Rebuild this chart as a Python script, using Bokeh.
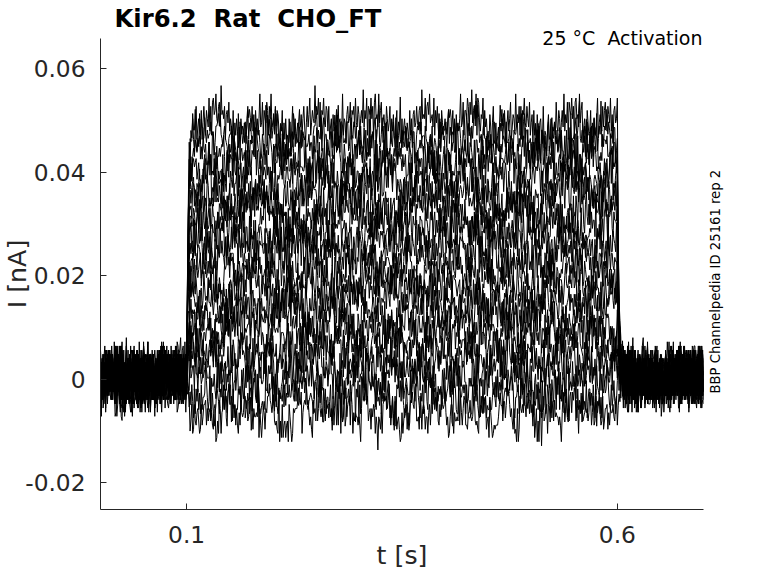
from bokeh.plotting import figure
from bokeh.models import Range1d, FixedTicker, LinearAxis, Title
from bokeh.embed import file_html
from bokeh.resources import INLINE
import numpy as np

# ---- data ----
t_start = 0.0
t_end = 0.7
dt = 0.001
step_on = 0.1
step_off = 0.6

# steady current level (nA) of each sweep during the step
levels = [0.0495, 0.0465, 0.0438, 0.0410, 0.0378, 0.0350, 0.0322, 0.0291,
          0.0262, 0.0235, 0.0204, 0.0176, 0.0148, 0.0118, 0.0090, 0.0060,
          0.0031, 0.0002, -0.0035, -0.0065]

# activation / deactivation time course (fraction of level, per ms sample)
rise = [0.45, 0.72, 0.86, 0.93, 0.97, 0.99, 1.0]
fall = [0.55, 0.32, 0.18, 0.10, 0.05, 0.02, 0.0]

# recording noise (units of 0.8 pA), fast part read as a typical pattern
noise = [
    2, -3, 1, 4, -1, -5, 0, 3, -2, 1, 5, -4, -1, 2, 0, -3, 6, -2, 1, -1,
    3, -4, 2, -6, 1, 0, 4, -2, -3, 2, 1, -1, 5, -3, 0, 2, -5, 3, -1, 1,
    -2, 4, 0, -4, 2, 3, -1, -2, 7, -3, 1, 0, -5, 2, 4, -2, -1, 3, -6, 1,
    0, 2, -3, 5, -1, -2, 3, 1, -4, 0, 2, -2, 6, -3, 1, -1, 4, -5, 2, 0,
    -1, 3, -2, 1, -7, 2, 4, -1, 0, -3, 5, -2, 1, 3, -4, 0, 2, -1, -3, 4,
    1, -2, 0, 5, -4, 2, -1, 3, -2, -5, 1, 6, -3, 0, 2, -1, -2, 4, -3, 1,
    3, -1, -4, 2, 0, -2, 5, -3, 1, -6, 2, 3, -1, 0, 4, -2, -3, 1, 2, -4,
    6, -1, 0, -2, 3, -5, 1, 2, -1, 4, -3, 0, 1, -2, 5, -4, 2, -1, 3, 0,
    -3, 2, -6, 4, 1, -2, 0, 3, -1, -4, 2, 5, -3, 1, -1, 0, 4, -2, 2, -5,
    3, -1, 1, -3, 0, 6, -2, -1, 4, -4, 2, 0, -2, 3, 1, -5, 2, -1, 5, -3,
    0, 1, -2, 4, -6, 3, 2, -1, -3, 1, 0, 5, -4, 2, -2, 3, -1, 0, -3, 4,
    1, -5, 2, 7, -2, -1, 3, -3, 0, 2, -4, 1, -1,
]
# slow wander of each sweep (same units, one value per 8 ms)
drift = [1, 2, 3, 2, 0, -1, -3, -2, 0, 2, 3, 1, -1, -2, -1, 1, 3, 3, 1,
         -2, -3, -1, 0, 1, 2, 0, -2, -3, -2, 0, 1, 3, 2, -1, -2, 0, 2]
noise_scale = 0.0008
drift_hold = 8
# per-sweep way of walking through the noise tables
strides = [1, 7, 13, 19, 29, 37, 43, 53, 61, 71, 79, 89, 97, 103, 113,
           127, 137, 149, 157, 167]
offsets = [0, 117, 31, 201, 64, 158, 12, 89, 176, 43, 222, 101, 7, 139,
           55, 190, 76, 163, 24, 211]
drift_strides = [1, 2, 3, 5, 6, 7, 8, 10, 11, 12, 13, 14, 15, 16, 17, 18,
                 4, 9, 19, 20]
drift_offsets = [0, 5, 11, 17, 23, 29, 3, 9, 15, 21, 27, 33, 1, 7, 13,
                 19, 25, 31, 35, 4]

x_ticks = [0.1, 0.6]
x_tick_labels = ["0.1", "0.6"]
y_ticks = [-0.02, 0, 0.02, 0.04, 0.06]
y_tick_labels = ["-0.02", "0", "0.02", "0.04", "0.06"]

NB = "\u00a0"
title_text = "Kir6.2" + NB + " Rat" + NB + " CHO_FT"
cond_text = "25 \u00b0C" + NB + " Activation"
id_text = "BBP Channelpedia ID 25161 rep 2"
id_start = -0.0028   # I value where the vertical identifier starts

# ---- build sweeps ----
n = int(round((t_end - t_start) / dt)) + 1
t = [t_start + i * dt for i in range(n)]
i_on = int(round(step_on / dt))
i_off = int(round(step_off / dt))
L = len(noise)
D = len(drift)

xs, ys = [], []
for k, lev in enumerate(levels):
    y = []
    for i in range(n):
        if i <= i_on:
            f = 0.0
        elif i <= i_off:
            f = rise[min(i - i_on - 1, len(rise) - 1)]
        else:
            f = fall[min(i - i_off - 1, len(fall) - 1)]
        nz = (noise[(i * strides[k] + offsets[k]) % L]
              + drift[((i // drift_hold) * drift_strides[k] + drift_offsets[k]) % D])
        y.append(lev * f + nz * noise_scale)
    xs.append(t)
    ys.append(y)

FONT = "DejaVu Sans"
DARK = "#262626"

p = figure(width=760, height=572, output_backend="svg", toolbar_location=None,
           x_range=Range1d(0.0, 0.7), y_range=Range1d(-0.0252, 0.0658),
           min_border_left=98, min_border_right=57, min_border_top=36,
           min_border_bottom=61, title=title_text)
p.outline_line_color = None
p.grid.visible = False
p.background_fill_color = "white"
p.border_fill_color = "white"

p.title.text_font = FONT
p.title.text_font_size = "24.3px"
p.title.text_font_style = "bold"
p.title.text_color = "black"
p.title.align = "left"
p.title.offset = 14
p.title.standoff = 3

p.add_layout(Title(text=cond_text, align="right", offset=1, standoff=-20,
                   text_font=FONT, text_font_size="19px",
                   text_font_style="normal", text_color="black"), "above")

p.multi_line(xs, ys, line_color="black", line_width=1)

for ax, ticks, labs in ((p.xaxis[0], x_ticks, x_tick_labels),
                        (p.yaxis[0], y_ticks, y_tick_labels)):
    ax.ticker = FixedTicker(ticks=ticks)
    ax.major_label_overrides = {tk: lb for tk, lb in zip(ticks, labs)}
    ax.minor_tick_line_color = None
    ax.major_tick_in = 6
    ax.major_tick_out = 0
    ax.axis_line_color = DARK
    ax.major_tick_line_color = DARK
    ax.major_label_text_font = FONT
    ax.major_label_text_font_size = "23.3px"
    ax.major_label_text_color = DARK
    ax.axis_label_text_font = FONT
    ax.axis_label_text_font_size = "25.3px"
    ax.axis_label_text_font_style = "normal"
    ax.axis_label_text_color = DARK

p.xaxis.axis_label = "t [s]"
p.yaxis.axis_label = "I [nA]"
p.yaxis.major_label_standoff = 15
p.yaxis.axis_label_standoff = -10
p.xaxis.major_label_standoff = 16
p.xaxis.axis_label_standoff = -5

# vertical identifier on the right: the single label of a bare right axis
rax = LinearAxis(ticker=FixedTicker(ticks=[id_start]),
                 major_label_overrides={id_start: id_text},
                 major_label_orientation=np.pi / 2,
                 axis_line_color=None, major_tick_line_color=None,
                 minor_tick_line_color=None, major_label_standoff=12,
                 major_tick_in=0, major_tick_out=0,
                 major_label_text_font=FONT,
                 major_label_text_font_size="13.2px",
                 major_label_text_color="black")
p.add_layout(rax, "right")

open("out.html", "w").write(file_html(p, INLINE))
